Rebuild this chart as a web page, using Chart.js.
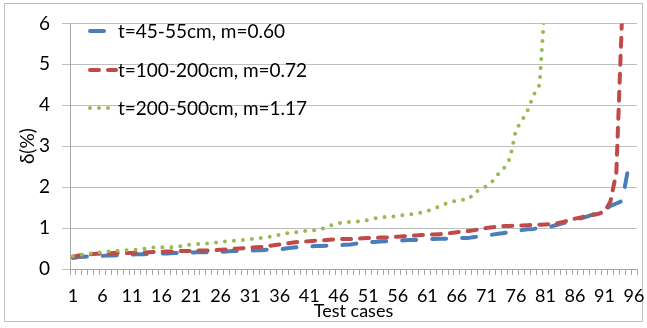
<!DOCTYPE html>
<html>
<head>
<meta charset="utf-8">
<title>Test cases</title>
<script src="https://cdn.jsdelivr.net/npm/chart.js"></script>
<style>
    html, body { margin: 0; padding: 0; background: #fff; }
    #wrap { width: 647px; height: 328px; position: relative; }
</style>
</head>
<body>
<div id="wrap"><canvas id="lineChart" width="647" height="328"></canvas></div>
<script>
// du lieu doc tu hinh
const testCases = [];
for (let i = 1; i <= 96; i++) testCases.push(String(i));

const seriesNames = ['t=45-55cm, m=0.60', 't=100-200cm, m=0.72', 't=200-500cm, m=1.17'];

const delta45 = [0.27, 0.29, 0.30, 0.31, 0.31, 0.32, 0.33, 0.33, 0.34, 0.34,
    0.35, 0.36, 0.36, 0.37, 0.37, 0.38, 0.38, 0.39, 0.39, 0.40,
    0.40, 0.41, 0.41, 0.41, 0.42, 0.42, 0.43, 0.44, 0.44, 0.45,
    0.45, 0.46, 0.46, 0.47, 0.47, 0.48, 0.50, 0.52, 0.53, 0.54,
    0.55, 0.56, 0.56, 0.57, 0.58, 0.58, 0.59, 0.60, 0.62, 0.64,
    0.65, 0.66, 0.67, 0.68, 0.68, 0.69, 0.70, 0.71, 0.71, 0.72,
    0.73, 0.73, 0.74, 0.74, 0.75, 0.75, 0.76, 0.76, 0.78, 0.80,
    0.82, 0.84, 0.86, 0.88, 0.90, 0.93, 0.95, 0.97, 0.98, 1.00,
    1.02, 1.04, 1.08, 1.12, 1.16, 1.20, 1.24, 1.28, 1.33, 1.38,
    1.45, 1.54, 1.60, 1.66, 2.45];

const delta100 = [0.30, 0.33, 0.35, 0.36, 0.37, 0.38, 0.38, 0.39, 0.39, 0.39,
    0.39, 0.40, 0.40, 0.41, 0.42, 0.42, 0.43, 0.43, 0.44, 0.44,
    0.44, 0.45, 0.45, 0.45, 0.46, 0.47, 0.48, 0.49, 0.50, 0.51,
    0.52, 0.53, 0.54, 0.56, 0.58, 0.60, 0.62, 0.64, 0.66, 0.67,
    0.68, 0.69, 0.70, 0.71, 0.72, 0.73, 0.73, 0.73, 0.74, 0.75,
    0.76, 0.76, 0.77, 0.77, 0.78, 0.79, 0.80, 0.81, 0.82, 0.83,
    0.84, 0.84, 0.85, 0.86, 0.88, 0.90, 0.92, 0.93, 0.95, 0.97,
    1.00, 1.02, 1.04, 1.05, 1.05, 1.06, 1.06, 1.07, 1.08, 1.08,
    1.09, 1.10, 1.12, 1.15, 1.19, 1.23, 1.26, 1.30, 1.32, 1.35,
    1.40, 1.65, 2.35, 6.3];

const delta200 = [0.31, 0.34, 0.36, 0.38, 0.40, 0.41, 0.43, 0.44, 0.45, 0.46,
    0.47, 0.47, 0.49, 0.51, 0.53, 0.53, 0.53, 0.53, 0.55, 0.58,
    0.60, 0.61, 0.62, 0.62, 0.64, 0.66, 0.68, 0.69, 0.70, 0.71,
    0.73, 0.75, 0.76, 0.78, 0.80, 0.84, 0.87, 0.88, 0.90, 0.92,
    0.94, 0.95, 0.97, 1.03, 1.08, 1.12, 1.14, 1.15, 1.16, 1.17,
    1.20, 1.23, 1.26, 1.27, 1.28, 1.30, 1.32, 1.33, 1.35, 1.38,
    1.42, 1.46, 1.53, 1.59, 1.64, 1.67, 1.69, 1.70, 1.87, 1.95,
    2.02, 2.14, 2.32, 2.47, 2.70, 3.40, 3.62, 3.88, 4.25, 4.50,
    6.7];

const yTicks = [0, 1, 2, 3, 4, 5, 6];

const fontName = 'Lato, "Liberation Sans", sans-serif';

// khung ngoai + chu thich ve tay
const frameLegend = {
    id: 'frameLegend',
    beforeDraw(chart) {
        const c = chart.ctx;
        c.save();
        c.strokeStyle = '#BFBFBF';
        c.lineWidth = 1;
        c.strokeRect(4.5, 3.5, 638, 318);
        c.restore();
    },
    afterDraw(chart) {
        const c = chart.ctx;
        const rows = [31, 70, 108];
        c.save();
        chart.data.datasets.forEach((ds, i) => {
            const y = rows[i];
            c.beginPath();
            c.strokeStyle = ds.borderColor;
            c.lineWidth = ds.borderWidth;
            c.lineCap = 'round';
            c.setLineDash(ds.borderDash);
            c.lineDashOffset = 0;
            c.moveTo(90, y);
            c.lineTo(i === 0 ? 104 : 116, y);
            c.stroke();
            c.setLineDash([]);
            c.fillStyle = '#000';
            c.font = '19px ' + fontName;
            c.textAlign = 'left';
            c.textBaseline = 'middle';
            c.fillText(seriesNames[i], 118, y + 1);
        });
        c.restore();
    }
};

var ctx = document.getElementById('lineChart').getContext('2d');
var chart1 = new Chart(ctx, {
    type: 'line',
    data: {
        labels: testCases,
        datasets: [
            {
                label: seriesNames[0],
                data: delta45,
                borderColor: '#4A7EBB',
                borderWidth: 4,
                borderDash: [14, 16],
                borderCapStyle: 'round',
                order: 2
            },
            {
                label: seriesNames[1],
                data: delta100,
                borderColor: '#BE4B48',
                borderWidth: 4,
                borderDash: [9, 9],
                borderCapStyle: 'round',
                order: 1
            },
            {
                label: seriesNames[2],
                data: delta200,
                borderColor: '#98B954',
                borderWidth: 4,
                borderDash: [0, 9],
                borderCapStyle: 'round',
                order: 0
            }
        ]
    },
    options: {
        responsive: false,
        animation: false,
        events: [],
        layout: { padding: { left: 0, right: 10, top: 15, bottom: 0 } },
        elements: {
            point: { radius: 0 },
            line: { tension: 0, borderJoinStyle: 'round' }
        },
        plugins: {
            legend: { display: false },
            tooltip: { enabled: false }
        },
        scales: {
            x: {
                type: 'category',
                offset: true,
                grid: {
                    offset: true,
                    drawOnChartArea: false,
                    drawTicks: true,
                    tickLength: 6,
                    color: '#A6A6A6'
                },
                border: { color: '#A6A6A6' },
                ticks: {
                    autoSkip: false,
                    maxRotation: 0,
                    color: '#000',
                    padding: 10,
                    font: { family: fontName, size: 18 },
                    callback: (v, i) => (i % 5 === 0 ? testCases[i] : '')
                },
                title: {
                    display: true,
                    text: 'Test cases',
                    color: '#000',
                    padding: { top: 0, bottom: 6 },
                    font: { family: fontName, size: 18 }
                },
                afterFit: (scale) => {
                    scale.height = 59;
                    scale.paddingLeft = 0;
                    scale.paddingRight = 0;
                }
            },
            y: {
                min: 0,
                max: 6,
                afterBuildTicks: (scale) => { scale.ticks = yTicks.map(v => ({ value: v })); },
                grid: { color: '#BFBFBF', tickLength: 8 },
                border: { color: '#A6A6A6' },
                ticks: {
                    color: '#000',
                    padding: 12,
                    font: { family: fontName, size: 19 }
                },
                title: {
                    display: true,
                    text: 'δ(%)',
                    color: '#000',
                    padding: { top: 16, bottom: 0 },
                    font: { family: fontName, size: 19 }
                },
                afterFit: (scale) => { scale.width = 70; }
            }
        }
    },
    plugins: [frameLegend]
});
</script>
</body>
</html>
